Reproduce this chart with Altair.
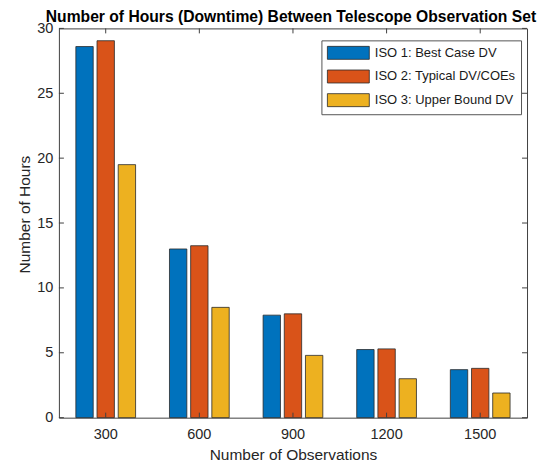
import altair as alt
import pandas as pd

observations = ["300", "600", "900", "1200", "1500"]
series = ["ISO 1: Best Case DV", "ISO 2: Typical DV/COEs", "ISO 3: Upper Bound DV"]
iso1 = [28.6, 13.0, 7.9, 5.25, 3.7]
iso2 = [29.05, 13.25, 8.0, 5.3, 3.8]
iso3 = [19.5, 8.5, 4.8, 3.0, 1.9]
colors = ["#0072BD", "#D95319", "#EDB120"]
y_ticks = [0, 5, 10, 15, 20, 25, 30]
TITLE = "Number of Hours (Downtime) Between Telescope Observation Set"

rows = []
for name, vals in zip(series, [iso1, iso2, iso3]):
    for o, v in zip(observations, vals):
        rows.append({"obs": o, "series": name, "hours": v})
df = pd.DataFrame(rows)
tick_df = pd.DataFrame({"t": y_ticks})
obs_df = pd.DataFrame({"obs": observations})
title_df = pd.DataFrame({"title": [TITLE]})

W, H = 469, 390
FONT = "Liberation Sans"
AX = "#404040"

xscale = alt.Scale(domain=observations, paddingInner=0, paddingOuter=0)
yscale = alt.Scale(domain=[0, 30], nice=False)

bars = alt.Chart(df).mark_bar(stroke="#2a2a2a", strokeWidth=0.8).encode(
    x=alt.X("obs:N", scale=xscale, sort=observations,
            axis=alt.Axis(title="Number of Observations", labelAngle=0, ticks=False,
                          domain=False, labelPadding=10, titlePadding=6)),
    xOffset=alt.XOffset("series:N", sort=series,
                        scale=alt.Scale(paddingInner=0.18, paddingOuter=0.8)),
    y=alt.Y("hours:Q", scale=yscale,
            axis=alt.Axis(title="Number of Hours", values=y_ticks, ticks=False,
                          domain=False, grid=False, labelPadding=6, titlePadding=4,
                          titleY=186)),
    color=alt.Color("series:N", sort=series,
                    scale=alt.Scale(domain=series, range=colors),
                    legend=alt.Legend(title=None, orient="none", legendX=263, legendY=12,
                                      symbolType="M-1,-1L5.46,-1L5.46,1L-1,1Z",
                                      symbolSize=169, symbolStrokeColor="#2a2a2a",
                                      symbolStrokeWidth=0.8, symbolOpacity=1,
                                      labelFontSize=13, labelFont=FONT, labelColor="#1a1a1a",
                                      rowPadding=5.7, symbolOffset=0, labelOffset=34,
                                      padding=5.5, strokeColor="#555", fillColor="white")),
)

yl = alt.Chart(tick_df).mark_rule(color=AX, strokeWidth=1).encode(
    y=alt.Y("t:Q", scale=yscale), x=alt.value(0), x2=alt.value(5))
yr = alt.Chart(tick_df).mark_rule(color=AX, strokeWidth=1).encode(
    y=alt.Y("t:Q", scale=yscale), x=alt.value(W), x2=alt.value(W - 5))
xt = alt.Chart(obs_df).mark_rule(color=AX, strokeWidth=1).encode(
    x=alt.X("obs:N", scale=xscale, sort=observations), y=alt.value(0), y2=alt.value(5))
xb = alt.Chart(obs_df).mark_rule(color=AX, strokeWidth=1).encode(
    x=alt.X("obs:N", scale=xscale, sort=observations), y=alt.value(H), y2=alt.value(H - 5))
title = alt.Chart(title_df).mark_text(
    font=FONT, fontSize=15.7, fontWeight="bold", color="black",
    align="center", baseline="alphabetic").encode(
    x=alt.value(W / 2 - 2), y=alt.value(-6.5), text="title:N")

chart = alt.layer(bars, yl, yr, xt, xb, title).properties(
    width=W, height=H,
    autosize=alt.AutoSizeParams(type="none"),
    padding={"left": 51, "top": 20, "right": 10, "bottom": 47},
).configure_view(stroke=AX, strokeWidth=1).configure_axis(
    labelFont=FONT, labelFontSize=14.5, labelColor="#262626",
    titleFont=FONT, titleFontSize=15.5, titleColor="#262626", titleFontWeight="normal"
)

chart.save("out.html", embed_options={"renderer": "svg", "actions": False})
